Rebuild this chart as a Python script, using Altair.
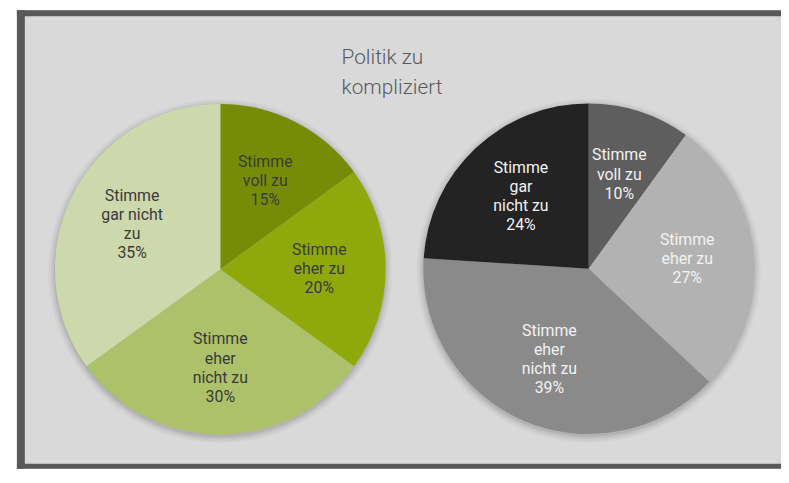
import altair as alt
import pandas as pd

# ---- data ----
categories = ["Stimme voll zu", "Stimme eher zu", "Stimme eher nicht zu", "Stimme gar nicht zu"]
left_values = [15, 20, 30, 35]
right_values = [10, 27, 39, 24]
left_label_lines = [["Stimme", "voll zu"], ["Stimme", "eher zu"],
                    ["Stimme", "eher", "nicht zu"], ["Stimme", "gar nicht", "zu"]]
right_label_lines = [["Stimme", "voll zu"], ["Stimme", "eher zu"],
                     ["Stimme", "eher", "nicht zu"], ["Stimme", "gar", "nicht zu"]]
left_colors = ["#778c06", "#8fa80b", "#adc16b", "#cdd8ac"]
right_colors = ["#5e5e5e", "#b2b2b2", "#8a8a8a", "#232323"]
title_lines = ["Politik zu", "kompliziert"]

rows = []
keys, colors = [], []
for pie, vals, lines, cols in [("left", left_values, left_label_lines, left_colors),
                               ("right", right_values, right_label_lines, right_colors)]:
    for i, (cat, v, ln, c) in enumerate(zip(categories, vals, lines, cols)):
        key = f"{pie}|{cat}"
        full = ln + [f"{v}%"]
        rows.append({"pie": pie, "cat": cat, "idx": i, "value": v, "key": key,
                     "label": "\n".join(full), "nlines": len(full)})
        keys.append(key)
        colors.append(c)
df = pd.DataFrame(rows)

base = alt.Chart(df)
R = 167
LH = 19.3
W, H = 772, 463


def pie_layers(pie, cx, cy, textcolor):
    b = base.transform_filter(alt.datum.pie == pie)
    theta = alt.Theta("value:Q", stack=True)
    order = alt.Order("idx:Q")
    layers = []
    for k, op in [(7, 0.025), (5, 0.035), (3, 0.05), (1, 0.07)]:
        layers.append(
            b.transform_aggregate(total="sum(value)")
            .mark_arc(radius=R + k, fill="#000000", opacity=op, strokeWidth=0)
            .encode(theta=alt.Theta("total:Q"), x=alt.value(cx), y=alt.value(cy + 2))
        )
    layers.append(
        b.mark_arc(radius=R, strokeWidth=0).encode(
            theta=theta, order=order,
            color=alt.Color("key:N", scale=alt.Scale(domain=keys, range=colors), legend=None),
            x=alt.value(cx), y=alt.value(cy),
        )
    )
    for n in (3, 4):
        layers.append(
            b.transform_calculate(show=f"datum.nlines == {n} ? datum.label : ''")
            .mark_text(radius=100, lineBreak="\n", font="Roboto", fontSize=16,
                       lineHeight=LH, color=textcolor, align="center", baseline="middle",
                       dy=-(n - 1) / 2 * LH)
            .encode(theta=theta, order=order, text="show:N", x=alt.value(cx), y=alt.value(cy))
        )
    return layers


title = alt.Chart(pd.DataFrame({"t": ["\n".join(title_lines)]})).mark_text(
    align="left", baseline="alphabetic", lineBreak="\n", lineHeight=31,
    fontSize=21, font="Roboto", fontWeight=300, color="#595959"
).encode(text="t:N", x=alt.value(328), y=alt.value(54))

border_df = pd.DataFrame({"b": [0]})
top_border = alt.Chart(border_df).mark_rule(color="#595959", strokeWidth=6).encode(
    x=alt.value(0), x2=alt.value(W), y=alt.value(3))
left_border = alt.Chart(border_df).mark_rule(color="#595959", strokeWidth=8).encode(
    x=alt.value(4), y=alt.value(0), y2=alt.value(H))
bottom_border = alt.Chart(border_df).mark_rule(color="#595959", strokeWidth=5).encode(
    x=alt.value(0), x2=alt.value(W), y=alt.value(H - 2.5))

chart = alt.layer(
    *pie_layers("left", 205.5, 261.5, "#3a3a3a"),
    *pie_layers("right", 577.7, 261, "#f2f2f2"),
    title, top_border, left_border, bottom_border,
).properties(
    width=W, height=H, background="white",
    padding={"left": 9, "top": 0, "right": 0, "bottom": 0},
    autosize="none",
).configure_view(fill="#d9d9d9", stroke=None)

chart.save("out.html", embed_options={"renderer": "svg", "actions": False})
